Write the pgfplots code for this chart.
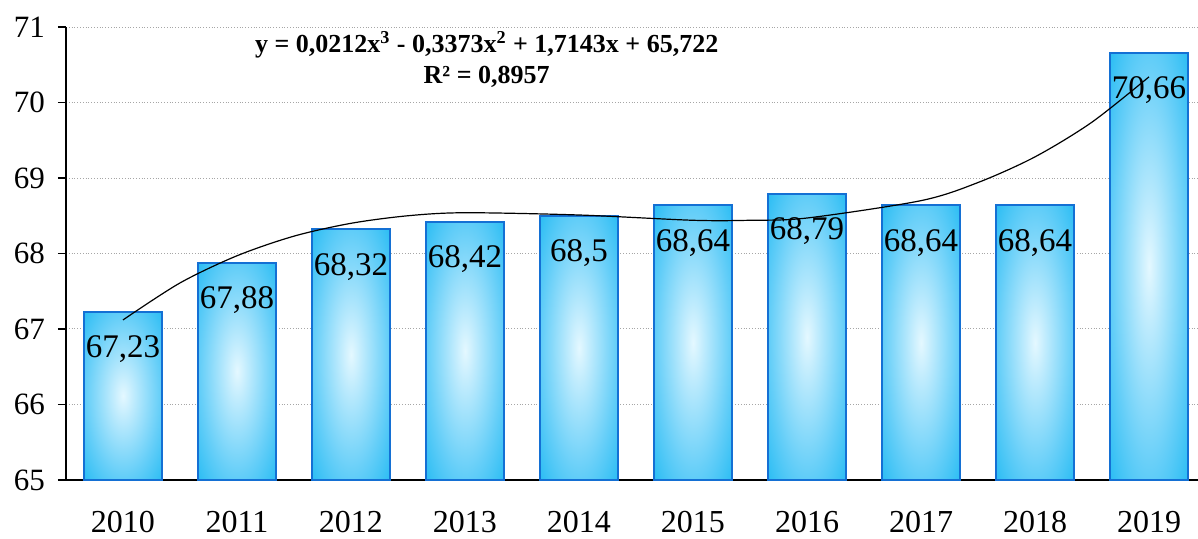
\documentclass[border=0pt]{standalone}
\usepackage{pgfplots}
\usepackage{pgfplotstable}
\pgfplotsset{compat=1.18}
\usepackage{fontspec}
\setmainfont{Liberation Serif}
\definecolor{barcyan}{RGB}{0,176,240}
\definecolor{barmid}{RGB}{100,206,248}
\definecolor{barlight}{RGB}{190,235,253}
\definecolor{barglowc}{RGB}{228,248,255}
\definecolor{bardraw}{RGB}{20,112,212}
\pgfdeclareradialshading{barglow}{\pgfpoint{0bp}{0bp}}{color(0bp)=(barglowc); color(7bp)=(barlight); color(24bp)=(barmid); color(44bp)=(barcyan); color(60bp)=(barcyan)}

\pgfplotstableread{
x v
1 67.23
2 67.88
3 68.32
4 68.42
5 68.5
6 68.64
7 68.79
8 68.64
9 68.64
10 70.66
}\bardata

\pgfplotstableread{
x t
1 67.12
1.5 67.61
2 67.97
2.5 68.23
3 68.40
3.5 68.50
4 68.54
5 68.51
6 68.44
6.5 68.44
7 68.47
8 68.70
8.5 68.94
9 69.28
9.5 69.74
10 70.34
}\trenddata

\begin{document}
\begin{tikzpicture}
\begin{axis}[
  name=ax,
  scale only axis,
  width=566pt, height=226.5pt,
  xmin=0.5, xmax=10.43,
  ymin=0, ymax=6,
  axis x line*=bottom, axis y line*=left,
  axis line style={-, black, line width=0.6pt},
  tick align=outside,
  major tick length=4pt,
  minor tick length=5pt,
  xtick={1,...,10},
  xticklabels={2010,2011,2012,2013,2014,2015,2016,2017,2018,2019},
  xtick style={draw=none},
  minor xtick={0.5,1.5,...,9.5},
  minor tick style={black, line width=0.6pt},
  ytick={0,1,2,3,4,5,6},
  yticklabels={65,66,67,68,69,70,71},
  ytick style={black, line width=0.6pt},
  ymajorgrids,
  grid style={densely dotted, gray!70, line width=0.5pt},
  xticklabel style={font=\fontsize{16}{16}\selectfont, yshift=-8pt},
  yticklabel style={font=\fontsize{15.5}{15.5}\selectfont, xshift=-3pt},
  /pgf/number format/assume math mode=true,
  /pgf/number format/use comma,
  /pgf/number format/1000 sep={},
  clip=false,
]
\pgfplotsinvokeforeach{1,...,10}{
\addplot[ybar, bar width=39pt, draw=bardraw, line width=1pt,
  shade, shading=barglow,
  x filter/.expression={abs(x-#1)<0.1 ? x : nan},
  unbounded coords=discard,
  nodes near coords, point meta=explicit,
  every node near coord/.append style={font=\fontsize{16.5}{16.5}\selectfont, anchor=north, inner sep=0pt, yshift=-11.5pt, text=black}]
  table[x=x, y expr=\thisrow{v}-65, meta=v] {\bardata};
}
\addplot[black, line width=0.6pt, smooth, no marks]
  table[x=x, y expr=\thisrow{t}-65] {\trenddata};
\node[font=\fontsize{13}{15.5}\selectfont\bfseries, align=center] at (axis cs:4.19,5.57)
  {y = 0,0212x\textsuperscript{3} - 0,3373x\textsuperscript{2} + 1,7143x + 65,722\\R² = 0,8957};
\end{axis}
\pgfresetboundingbox
\useasboundingbox ([xshift=-33pt,yshift=-29.5pt]ax.south west) rectangle ([yshift=13.5pt]ax.north east);
\end{tikzpicture}
\end{document}
